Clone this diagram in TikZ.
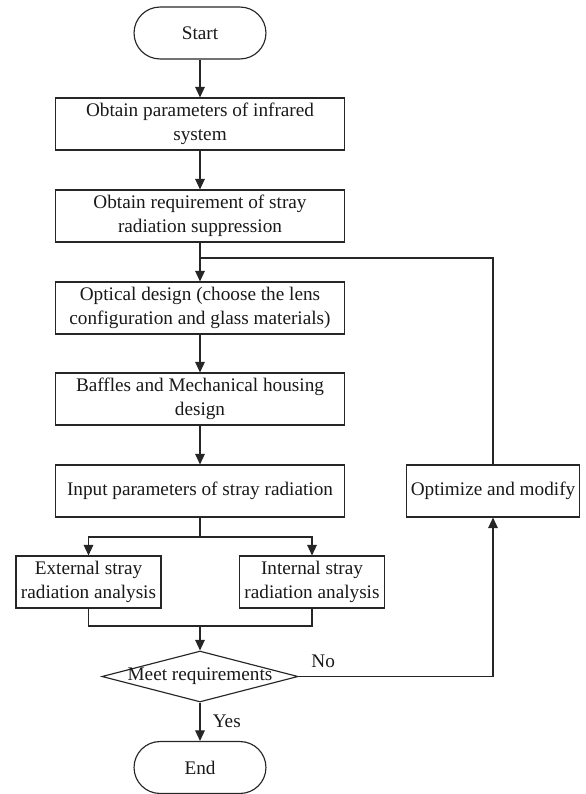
\documentclass[tikz,border=0pt]{standalone}
\usepackage{fontspec}
\setmainfont{Liberation Serif}
\usetikzlibrary{arrows.meta,shapes.geometric}
\colorlet{myline}{black!85}
\colorlet{mytext}{black!90}

\begin{document}
\begin{tikzpicture}[x=0.52pt,y=-0.52pt,font=\fontsize{10}{12.5}\selectfont,text=mytext]
\tikzset{EdgeStyle/.style ={draw=myline, line width=0.6pt}}
\tikzset{ArrowStyle/.style ={EdgeStyle, -{Triangle[length=5.5pt,width=5pt]}}}
\tikzset{BoxStyle/.style ={draw=myline, line width=0.6pt, rectangle, align=center,
  inner sep=2pt, minimum width=150.3pt, minimum height=27pt}}
\tikzset{SmallBoxStyle/.style ={BoxStyle, minimum width=75.4pt}}
\tikzset{TermStyle/.style ={BoxStyle, minimum width=68.6pt, rounded corners=13.5pt}}
\tikzset{DecisionStyle/.style ={draw=myline, line width=0.6pt, shape=diamond,
  inner sep=0pt, minimum width=102pt, minimum height=26.5pt}}
\useasboundingbox (0,0) rectangle (586,794);
% main column
\node[TermStyle] (start) at (200,33) {Start};
\node[BoxStyle] (params) at (200,124) {Obtain parameters of infrared\\system};
\node[BoxStyle] (require) at (200,216) {Obtain requirement of stray\\radiation suppression};
\node[BoxStyle] (optical) at (200,308) {Optical design (choose the lens\\configuration and glass materials)};
\node[BoxStyle] (baffles) at (200,399) {Baffles and Mechanical housing\\design};
\node[BoxStyle] (input) at (200,491) {Input parameters of stray radiation};
\node[SmallBoxStyle] (external) at (88.5,582) {External stray\\radiation analysis};
\node[SmallBoxStyle] (internal) at (312,582) {Internal stray\\radiation analysis};
\node[DecisionStyle, label={[name=meettext]center:Meet requirements}] (meet) at (200,676.5) {};
\node[TermStyle] (end) at (200,767.5) {End};
% feedback column
\node[BoxStyle, minimum width=89.4pt] (optimize) at (493,491) {Optimize and modify};
\coordinate (join) at (200,258);
\coordinate (split) at (200,537);
\coordinate (merge) at (200,626);
% connectors
\draw[ArrowStyle] (start) -- (params);
\draw[ArrowStyle] (params) -- (require);
\draw[ArrowStyle] (require) -- (optical);
\draw[EdgeStyle] (optimize.north) |- (join);
\draw[ArrowStyle] (optical) -- (baffles);
\draw[ArrowStyle] (baffles) -- (input);
\draw[EdgeStyle] (input) -- (split);
\draw[ArrowStyle] (split) -| (external);
\draw[ArrowStyle] (split) -| (internal);
\draw[EdgeStyle] (external.south) |- (merge) -| (internal.south);
\draw[ArrowStyle] (merge) -- (meet);
\draw[ArrowStyle] (meet) -- node[right, xshift=3pt] {Yes} (end);
\draw[ArrowStyle] (meet.east) -| node[pos=0, anchor=south west, xshift=3pt, yshift=1pt] {No} (optimize.south);
\end{tikzpicture}
\end{document}
